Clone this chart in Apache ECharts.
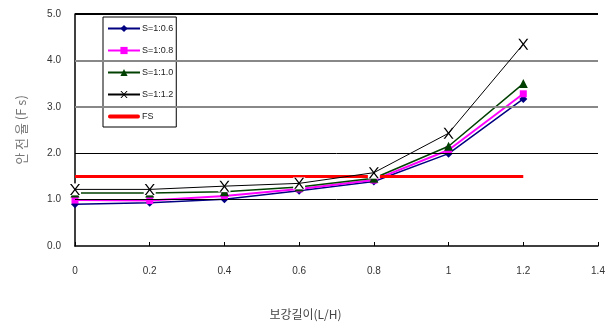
<!DOCTYPE html>
<html>
<head>
<meta charset="utf-8">
<script src="https://cdn.jsdelivr.net/npm/echarts@6/dist/echarts.min.js"></script>
<style>
  html, body { margin: 0; padding: 0; background: #fff; }
  #chart { width: 611px; height: 329px; }
</style>
</head>
<body>
<div id="chart"></div>
<script>
// Reinforcement length ratio (L/H)
const lengthRatio = [0, 0.2, 0.4, 0.6, 0.8, 1.0, 1.2];

// Factor of safety for each slope gradient
const fsS06 = [0.90, 0.93, 1.01, 1.19, 1.39, 1.99, 3.17];
const fsS08 = [0.99, 0.98, 1.08, 1.23, 1.42, 2.07, 3.28];
const fsS10 = [1.14, 1.14, 1.17, 1.27, 1.46, 2.15, 3.50];
const fsS12 = [1.22, 1.22, 1.29, 1.35, 1.58, 2.43, 4.35];

// Required factor of safety
const fsRequired = [1.5, 1.5, 1.5, 1.5, 1.5, 1.5, 1.5];

// Horizontal grid levels and how each one is drawn
const gridLevels = [1, 2, 3, 4, 5];
const gridColors = ['#000', '#000', '#888', '#888', '#000'];
const gridWidths = [1, 1, 2, 2, 2];

const pair = (ys) => lengthRatio.map((x, i) => [x, ys[i]]);

const latin = '"Liberation Sans Narrow", "Liberation Sans", Arial, sans-serif';
const korean = '"Noto Sans CJK KR", "Noto Sans", sans-serif';

const crossPath = 'path://M0,0 L1.6,0 L5,4.1 L8.4,0 L10,0 L5.8,5 L10,10 L8.4,10 L5,5.9 L1.6,10 L0,10 L4.2,5 Z';

const chart = echarts.init(document.getElementById('chart'), null, { renderer: 'canvas' });

chart.setOption({
  animation: false,
  backgroundColor: '#fff',
  grid: { left: 75, right: 13, top: 14, bottom: 83 },
  legend: {
    orient: 'vertical',
    left: 103,
    top: 17,
    padding: [7, 3, 6, 4],
    itemGap: 13,
    itemWidth: 32,
    itemHeight: 9,
    borderColor: '#000',
    borderWidth: 1,
    backgroundColor: '#fff',
    data: [
      { name: 'S=1:0.6' },
      { name: 'S=1:0.8' },
      { name: 'S=1:1.0' },
      { name: 'S=1:1.2' },
      { name: 'FS', icon: 'path://M1,0 H31 A2,2 0 0 1 31,4 H1 A2,2 0 0 1 1,0 Z' }
    ],
    textStyle: { fontFamily: latin, fontSize: 9, color: '#222', padding: [0, 0, 0, -3] }
  },
  xAxis: {
    type: 'value',
    min: 0,
    max: 1.4,
    interval: 0.2,
    axisLine: { lineStyle: { color: '#000', width: 1.5 } },
    axisTick: { inside: true, length: 4, lineStyle: { color: '#000' } },
    axisLabel: { margin: 20, fontFamily: latin, fontSize: 10, color: '#333' },
    splitLine: { show: false }
  },
  yAxis: {
    type: 'value',
    min: 0,
    max: 5,
    interval: 1,
    name: '안 전 율 (F s)',
    nameLocation: 'middle',
    nameGap: 47,
    nameRotate: 90,
    nameTextStyle: { fontFamily: korean, fontSize: 13, color: '#777' },
    axisLine: { show: true, lineStyle: { color: '#000', width: 1.5 } },
    axisTick: { show: false },
    axisLabel: {
      margin: 14,
      fontFamily: latin,
      fontSize: 10,
      color: '#333',
      formatter: (v) => v.toFixed(1)
    },
    splitLine: { show: false }
  },
  graphic: [{
    type: 'text',
    left: 'center',
    top: 308,
    style: { text: '보강길이(L/H)', font: '12px "Noto Sans CJK KR", sans-serif', fill: '#444' }
  }],
  series: [
    {
      // horizontal grid lines
      type: 'line', data: [], silent: true, z: 1,
      markLine: {
        silent: true, symbol: 'none', label: { show: false },
        data: gridLevels.map((v, i) => ({
          yAxis: v,
          lineStyle: { color: gridColors[i], width: gridWidths[i], type: 'solid' }
        }))
      }
    },
    {
      name: 'S=1:0.6', type: 'line', data: pair(fsS06),
      symbol: 'diamond', symbolSize: 8,
      lineStyle: { color: '#000080', width: 1.5 },
      itemStyle: { color: '#000080' }, z: 2
    },
    {
      name: 'S=1:0.8', type: 'line', data: pair(fsS08),
      symbol: 'rect', symbolSize: 7,
      lineStyle: { color: '#ff00ff', width: 2 },
      itemStyle: { color: '#ff00ff' }, z: 3
    },
    {
      name: 'S=1:1.0', type: 'line', data: pair(fsS10),
      symbol: 'triangle', symbolSize: 9,
      lineStyle: { color: '#004000', width: 1.5 },
      itemStyle: { color: '#004000' }, z: 4
    },
    {
      name: 'FS', type: 'line', data: pair(fsRequired),
      symbol: 'none',
      lineStyle: { color: '#ff0000', width: 3 },
      itemStyle: { color: '#ff0000' }, z: 5
    },
    {
      // white backing behind the cross markers
      type: 'line', data: pair(fsS12), silent: true,
      symbol: 'rect', symbolSize: [12, 12], showAllSymbol: true,
      lineStyle: { width: 0, opacity: 0 },
      itemStyle: { color: '#fff' }, z: 6
    },
    {
      name: 'S=1:1.2', type: 'line', data: pair(fsS12),
      symbol: crossPath, symbolSize: [10, 11], showAllSymbol: true,
      lineStyle: { color: '#000', width: 1 },
      itemStyle: { color: '#000' }, z: 7
    }
  ]
});
</script>
</body>
</html>
